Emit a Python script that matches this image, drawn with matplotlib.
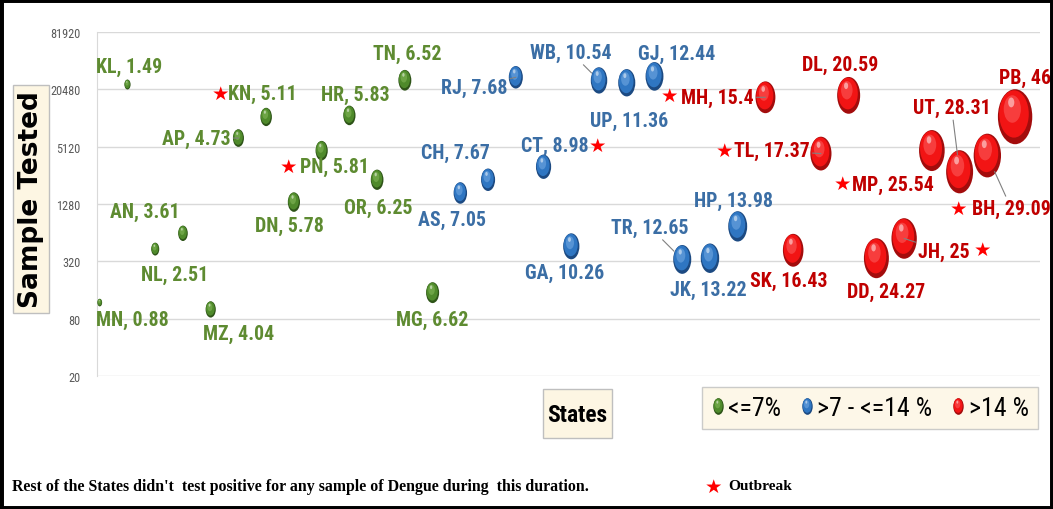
import matplotlib
matplotlib.use('Agg')
import matplotlib.pyplot as plt
from matplotlib import font_manager as fm
from matplotlib.markers import MarkerStyle
from matplotlib.transforms import Affine2D
from matplotlib.patches import Rectangle
from matplotlib.lines import Line2D
from matplotlib.legend_handler import HandlerTuple

# data, states sorted by positivity
states = ['MN', 'KL', 'NL', 'AN', 'MZ', 'AP', 'KN', 'DN', 'PN', 'HR', 'OR', 'TN', 'MG',
          'AS', 'CH', 'RJ', 'CT', 'GA', 'WB', 'UP', 'GJ', 'TR', 'JK', 'HP',
          'MH', 'SK', 'TL', 'DL', 'DD', 'JH', 'MP', 'UT', 'BH', 'PB']
positivity = [0.88, 1.49, 2.51, 3.61, 4.04, 4.73, 5.11, 5.78, 5.81, 5.83, 6.25, 6.52, 6.62,
              7.05, 7.67, 7.68, 8.98, 10.26, 10.54, 11.36, 12.44, 12.65, 13.22, 13.98,
              15.4, 16.43, 17.37, 20.59, 24.27, 25, 25.54, 28.31, 29.09, 46]
samples = [118, 23000, 430, 630, 100, 6300, 10500, 1340, 4650, 10900, 2300, 25500, 150,
           1670, 2300, 27400, 3150, 460, 25400, 24000, 28000, 335, 345, 745,
           16900, 418, 4330, 17700, 345, 556, 4660, 2790, 4130, 10560]
outbreak = ['KN', 'PN', 'CT', 'MH', 'TL', 'MP', 'BH', 'JH']
yticks = [20, 80, 320, 1280, 5120, 20480, 81920]
legend_labels = ['<=7%', '>7 - <=14 %', '>14 %']
note = "Rest of the States didn't  test positive for any sample of Dengue during  this duration."

# label offsets from bubble centre in pixels (right, down)
label_off = {
    'MN': (33, 17), 'KL': (2, -18), 'NL': (19, 25), 'AN': (-38, -22), 'MZ': (28, 24),
    'AP': (-42, 0), 'KN': (-4, -24), 'DN': (-4, 23), 'PN': (13, 16), 'HR': (6, -21),
    'OR': (1, 28), 'TN': (2, -27), 'MG': (0, 27),
    'AS': (-8, 26), 'CH': (-33, -27), 'RJ': (-42, 10), 'CT': (11, -21), 'GA': (-7, 26),
    'WB': (-28, -28), 'UP': (2, 38), 'GJ': (22, -23), 'TR': (-32, -32), 'JK': (-2, 31),
    'HP': (-4, -26),
    'MH': (-48, 0), 'SK': (-4, 30), 'TL': (-49, -3), 'DL': (-9, -31), 'DD': (10, 33),
    'JH': (40, 13), 'MP': (-39, 34), 'UT': (-8, -64), 'BH': (24, 53), 'PB': (10, -39),
}
star_off = {'KN': (-46, -24), 'PN': (-33, 16), 'CT': (54, -21), 'MH': (-96, -2),
            'TL': (-96, -3), 'MP': (-89, 33), 'BH': (-29, 53), 'JH': (78, 11)}
leaders = ['AP', 'RJ', 'WB', 'TR', 'MH', 'TL', 'JH', 'UT', 'BH']


def pick_font(cands):
    for c in cands:
        try:
            fm.findfont(fm.FontProperties(family=c), fallback_to_default=False)
            return c
        except ValueError:
            pass
    return 'DejaVu Sans'


NARROW = [pick_font(['Liberation Sans Narrow', 'Roboto Condensed', 'DejaVu Sans Condensed',
                     'Open Sans Condensed', 'Noto Sans Display', 'Lato', 'Roboto']),
          'DejaVu Sans']
SERIF = [pick_font(['Liberation Serif', 'DejaVu Serif']), 'DejaVu Sans']

ball_cols = {
    'g': ('#2E5418', '#4F8A2B', '#93C466'),
    'b': ('#1C4A82', '#2F76C2', '#86B8EA'),
    'r': ('#A30C0C', '#F21414', '#FF7070'),
}
text_cols = {'g': '#5E8B31', 'b': '#3B6EA5', 'r': '#C00000'}
layers = [(1.0, 0.0, 0.0, 0, 1.0), (0.86, -0.02, 0.05, 1, 1.0),
          (0.5, -0.05, 0.14, 2, 0.45), (0.18, -0.07, 0.26, 'w', 0.5)]


def ball_marker(k, dx, dy):
    return MarkerStyle('o', transform=Affine2D().scale(0.625 * k, k).translate(dx, dy))


def group(p):
    if p <= 7:
        return 'g'
    if p <= 14:
        return 'b'
    return 'r'


fig = plt.figure(figsize=(10.53, 5.10), dpi=100)
renderer = fig.canvas.get_renderer()


def fit_size(text, width_px, family, weight='normal'):
    # font size that makes `text` about width_px wide
    t = fig.text(0, 0, text, fontsize=10, family=family, fontweight=weight)
    w = t.get_window_extent(renderer).width
    t.remove()
    return 10 * width_px / w


lab_fs = fit_size('KL, 1.49', 66, NARROW, 'bold')
tick_fs = fit_size('81920', 30, NARROW)
states_fs = fit_size('States', 60, NARROW, 'bold')
leg_fs = fit_size('>7 - <=14 %', 114, NARROW)
note_fs = fit_size(note, 576, SERIF, 'bold')
out_fs = fit_size('Outbreak', 64, SERIF, 'bold')

ax = fig.add_axes([0.0921, 0.2608, 0.8956, 0.6745])

xs = list(range(1, len(states) + 1))
grp = [group(p) for p in positivity]
sizes = [34.1 * p for p in positivity]

for key in ['g', 'b', 'r']:
    gx = [x for x, g in zip(xs, grp) if g == key]
    gy = [y for y, g in zip(samples, grp) if g == key]
    gs = [s for s, g in zip(sizes, grp) if g == key]
    for k, dx, dy, ci, a in layers:
        col = 'white' if ci == 'w' else ball_cols[key][ci]
        ax.scatter(gx, gy, s=gs, marker=ball_marker(k, dx, dy),
                   color=col, edgecolors='none', alpha=a, zorder=3, clip_on=False)

for st, x, y, p, g, s in zip(states, xs, samples, positivity, grp, sizes):
    dx, dy = label_off[st]
    r = (s ** 0.5) * 0.4
    arrow = None
    if st in leaders:
        arrow = dict(arrowstyle='-', color='#808080', lw=0.8, shrinkA=0, shrinkB=r)
    ax.annotate(f'{st}, {p:g}', (x, y), xytext=(dx, -dy), textcoords='offset pixels',
                ha='center', va='center', fontsize=lab_fs, fontweight='bold',
                family=NARROW, color=text_cols[g], arrowprops=arrow, zorder=4,
                annotation_clip=False)
    if st in outbreak:
        sx, sy = star_off[st]
        ax.annotate('\u2605', (x, y), xytext=(sx, -sy), textcoords='offset pixels',
                    ha='center', va='center', fontsize=14, color='#FF0000',
                    family='DejaVu Sans', zorder=4, annotation_clip=False)

ax.set_yscale('log', base=2)
ax.set_ylim(yticks[0], yticks[-1])
ax.set_xlim(0.9, 34.9)
ax.set_yticks(yticks)
ax.set_yticklabels([str(t) for t in yticks])
ax.minorticks_off()
ax.set_xticks([])
ax.tick_params(axis='y', length=0, pad=12, labelsize=tick_fs, labelcolor='#595959')
for lab in ax.get_yticklabels():
    lab.set_family(NARROW)
ax.yaxis.grid(True, color='#D9D9D9', lw=1)
ax.set_axisbelow(True)
for side in ['top', 'right', 'bottom']:
    ax.spines[side].set_visible(False)
ax.spines['left'].set_color('#D9D9D9')

# axis titles in cream boxes
fig.text(31 / 1053, 1 - 200 / 510, 'Sample Tested', rotation=90, ha='center', va='center',
         fontsize=19, fontweight='bold', family='DejaVu Sans', color='black',
         bbox=dict(boxstyle='square,pad=0.2', fc='#FDF6E3', ec='#BFBFBF', lw=1))
fig.patches.append(Rectangle((543 / 1053, 1 - 439 / 510), 69 / 1053, 49 / 510,
                             transform=fig.transFigure, fc='#FDF6E3', ec='#BFBFBF', lw=1))
fig.text(577 / 1053, 1 - 416 / 510, 'States', ha='center', va='center', fontsize=states_fs,
         fontweight='bold', family=NARROW, color='black')

# legend
handles = []
for key in ['g', 'b', 'r']:
    parts = []
    for k, dx, dy, ci, a in layers:
        col = 'white' if ci == 'w' else ball_cols[key][ci]
        parts.append(Line2D([], [], ls='none', marker=ball_marker(k, dx, dy), markersize=12,
                            markerfacecolor=col, markeredgecolor='none', alpha=a))
    handles.append(tuple(parts))
leg = fig.legend(handles, legend_labels, handler_map={tuple: HandlerTuple(ndivide=1)},
                 loc='center', bbox_to_anchor=(870 / 1053, 1 - 409 / 510), ncol=3,
                 frameon=True, fancybox=False, handlelength=0.5, handletextpad=0.15,
                 columnspacing=0.75, borderpad=0.35, borderaxespad=0,
                 prop={'family': NARROW, 'size': leg_fs})
leg.get_frame().set_facecolor('#FDF6E3')
leg.get_frame().set_edgecolor('#BFBFBF')
leg.get_frame().set_linewidth(1)

# notes
fig.text(12 / 1053, 1 - 487 / 510, note, ha='left', va='center', fontsize=note_fs,
         fontweight='bold', family=SERIF)
fig.text(713 / 1053, 1 - 487 / 510, '\u2605', ha='center', va='center', fontsize=14,
         color='#FF0000', family='DejaVu Sans')
fig.text(728 / 1053, 1 - 487 / 510, 'Outbreak', ha='left', va='center', fontsize=out_fs,
         fontweight='bold', family=SERIF)

fig.patches.append(Rectangle((0, 0), 1, 1, transform=fig.transFigure, fill=False,
                             ec='black', lw=5))

fig.savefig('out.png', dpi=100)
